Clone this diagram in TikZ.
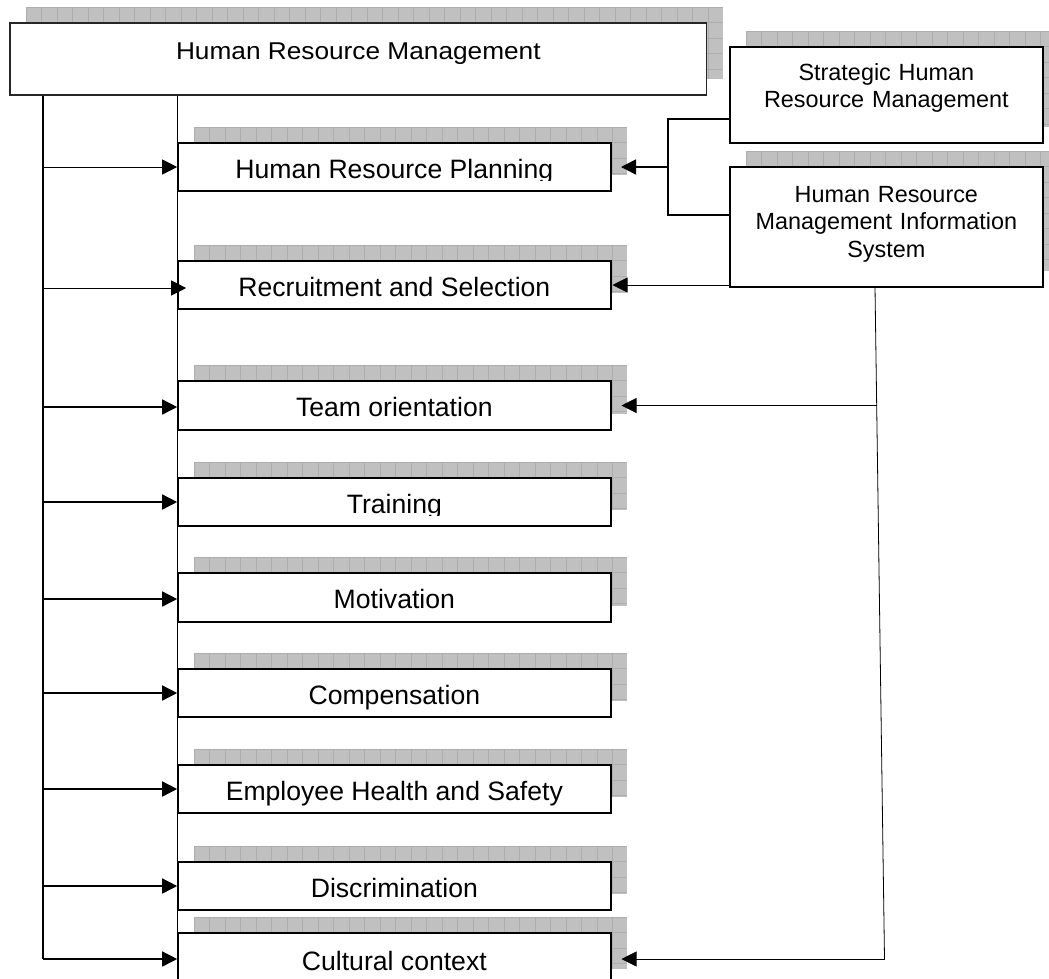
\documentclass[tikz,border=0pt]{standalone}
\usepackage{fontspec}
\setmainfont{Liberation Sans}
\newfontfamily\widefont[FakeStretch=1.08]{Liberation Sans}
\usetikzlibrary{arrows.meta}
\definecolor{shadowfill}{HTML}{C0C0C0}
\definecolor{gridcol}{HTML}{ADADAD}
\newcommand\gridshadow[4]{%
  \begin{scope}[shift={(#1+16,#2-16)}]
    \fill[shadowfill] (0,0) rectangle (#3-#1,#4-#2);
    \clip (0,0) rectangle (#3-#1,#4-#2);
    \draw[gridcol, line width=0.5pt, step=15.5pt] (0,0) grid (#3-#1,#4-#2);
  \end{scope}}
\tikzset{
  box/.style={draw=black, line width=1.6pt, fill=white, inner sep=0pt,
    minimum width=432.7pt, minimum height=48pt,
    font=\fontsize{26.6}{30}\selectfont, text height=22pt, text depth=0pt},
  boxtext/.style={inner sep=0pt, font=\fontsize{26.6}{30}\selectfont,
    text height=22pt, text depth=0pt},
  topbox/.style={draw=black!85, line width=1.1pt, fill=white, inner sep=0pt,
    minimum width=696.7pt, minimum height=72pt,
    font=\widefont\fontsize{24.3}{28}\selectfont, text height=10pt, text depth=10pt},
  sidebox/.style={draw=black, line width=1.6pt, fill=white, inner sep=0pt,
    minimum width=312.7pt},
  sidetext/.style={inner sep=0pt, text width=300pt, align=center,
    font=\fontsize{23.4}{27.5}\selectfont, anchor=base},
  tip/.style={-{Triangle[length=15pt,width=15pt]}},
  thickcon/.style={line width=1.5pt, black},
  thincon/.style={line width=0.8pt, black},
}
\begin{document}
\begin{tikzpicture}[x=1pt,y=-1pt]
\clip (0,0) rectangle (1049,978);
\fill[white] (0,0) rectangle (1049,978);

% shadows
\gridshadow{10}{23}{706.7}{95}
\gridshadow{730}{47}{1042.7}{143}
\gridshadow{730}{167}{1042.7}{287}
\gridshadow{178}{143}{610.7}{191}
\gridshadow{178}{261}{610.7}{309}
\gridshadow{178}{381}{610.7}{430}
\gridshadow{178}{478}{610.7}{526}
\gridshadow{178}{573}{610.7}{622}
\gridshadow{178}{669}{610.7}{717}
\gridshadow{178}{765}{610.7}{813}
\gridshadow{178}{862}{610.7}{910}
\gridshadow{178}{933}{610.7}{985}

% boxes
\node[topbox] (hrm) at (358.35,59) {Human Resource Management};
\node[sidebox, minimum height=96pt] (shrm) at (886.35,95) {};
\node[sidetext] (shrm-t) at (886.35,80) {Strategic Human\\Resource Management};
\node[sidebox, minimum height=120pt] (hrmis) at (886.35,227) {};
\node[sidetext] (hrmis-t) at (886.35,202) {Human Resource\\Management Information\\System};

\node[box] (hrp) at (394.35,167) {};
\begin{scope}
  \clip (178,143) rectangle (610.7,180.5);
  \node[boxtext] (hrp-t) at (hrp.center) {Human Resource Planning};
\end{scope}
\node[box] (rs) at (394.35,285) {Recruitment and Selection};
\node[box, minimum height=49pt] (team) at (394.35,405.5) {Team orientation};
\node[box] (train) at (394.35,502) {};
\begin{scope}
  \clip (178,478) rectangle (610.7,515.5);
  \node[boxtext] (train-t) at (train.center) {Training};
\end{scope}
\node[box, minimum height=49pt] (motiv) at (394.35,597.5) {Motivation};
\node[box] (comp) at (394.35,693) {Compensation};
\node[box] (ehs) at (394.35,789) {Employee Health and Safety};
\node[box] (disc) at (394.35,886) {Discrimination};
\node[box, minimum height=52pt] (cult) at (394.35,959) {Cultural context};

% left rail
\coordinate (railtop) at ([xshift=34pt]hrm.south west);
\draw[line width=2pt] (railtop) -- (railtop |- cult.west);
\draw[line width=1.3pt] (hrp.west |- hrm.south) -- (cult.south west);

\draw[thincon, tip] (railtop |- hrp.west) -- (hrp.west);
\draw[thincon, tip] ([yshift=-3pt]railtop |- rs.west) -- ([xshift=9pt,yshift=-3pt]rs.west);
\draw[thickcon, tip] ([yshift=-1.5pt]railtop |- team.west) -- ([yshift=-1.5pt]team.west);
\draw[thickcon, tip] (railtop |- train.west) -- (train.west);
\draw[thickcon, tip] ([yshift=-1.5pt]railtop |- motiv.west) -- ([yshift=-1.5pt]motiv.west);
\draw[thickcon, tip] (railtop |- comp.west) -- (comp.west);
\draw[thickcon, tip] (railtop |- ehs.west) -- (ehs.west);
\draw[thickcon, tip] (railtop |- disc.west) -- (disc.west);
\draw[thickcon, tip] (railtop |- cult.west) -- (cult.west);

% right side connectors
\coordinate (ja) at (668,119);
\coordinate (jb) at (668,215);
\coordinate (jm) at (668,167);
\draw[line width=1.6pt] (shrm.west |- ja) -- (ja) -- (jb) -- (hrmis.west |- jb);
\draw[line width=1.6pt, tip] (jm) -- ([xshift=9.5pt]hrp.east);
\draw[thincon, tip] (hrmis.south west |- rs.east) -- ([xshift=1pt]rs.east);

\coordinate (st) at (875,287);
\coordinate (sb) at (884.5,959);
\coordinate (tm) at (876.7,405.5);
\draw[thincon] (st) -- (sb);
\draw[thincon, tip] (sb) -- ([xshift=10pt]cult.east);
\draw[thincon, tip] (tm) -- ([xshift=10pt]team.east);
\end{tikzpicture}
\end{document}
